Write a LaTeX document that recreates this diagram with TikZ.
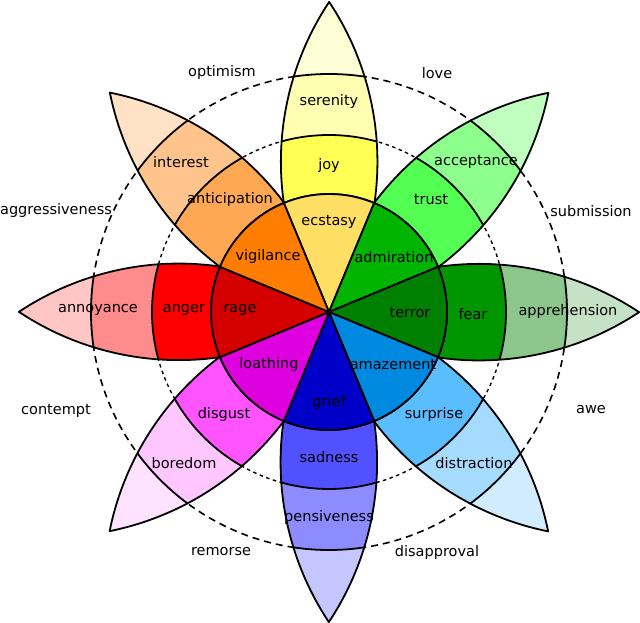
\documentclass[tikz,border=0pt]{standalone}
\usepackage{fontspec}
\setmainfont{DejaVu Sans}
% joy
\definecolor{joyA}{RGB}{255,222,100}
\definecolor{joyB}{RGB}{255,255,84}
\definecolor{joyC}{RGB}{255,255,177}
\definecolor{joyD}{RGB}{255,255,215}
% trust
\definecolor{truA}{RGB}{0,180,0}
\definecolor{truB}{RGB}{84,255,84}
\definecolor{truC}{RGB}{140,255,140}
\definecolor{truD}{RGB}{192,255,192}
% fear
\definecolor{feaA}{RGB}{0,128,0}
\definecolor{feaB}{RGB}{0,150,0}
\definecolor{feaC}{RGB}{140,198,140}
\definecolor{feaD}{RGB}{198,226,198}
% surprise
\definecolor{surA}{RGB}{0,137,224}
\definecolor{surB}{RGB}{89,189,255}
\definecolor{surC}{RGB}{165,219,255}
\definecolor{surD}{RGB}{210,236,255}
% sadness
\definecolor{sadA}{RGB}{0,0,200}
\definecolor{sadB}{RGB}{81,81,255}
\definecolor{sadC}{RGB}{140,140,255}
\definecolor{sadD}{RGB}{198,198,255}
% disgust
\definecolor{disA}{RGB}{222,0,222}
\definecolor{disB}{RGB}{255,84,255}
\definecolor{disC}{RGB}{255,198,255}
\definecolor{disD}{RGB}{255,226,255}
% anger
\definecolor{angA}{RGB}{212,0,0}
\definecolor{angB}{RGB}{255,0,0}
\definecolor{angC}{RGB}{255,140,140}
\definecolor{angD}{RGB}{255,198,198}
% anticipation
\definecolor{antA}{RGB}{255,125,0}
\definecolor{antB}{RGB}{255,168,84}
\definecolor{antC}{RGB}{255,196,140}
\definecolor{antD}{RGB}{255,226,198}
\newcommand{\PetalPath}{(22.5:118) arc[start angle=98.2, end angle=56.4, radius=288.9] arc[start angle=-56.4, end angle=-98.2, radius=288.9] arc[start angle=-22.5, end angle=22.5, radius=118] -- cycle}
\newcommand{\Petal}[5]{%
  \begin{scope}[rotate=#1]
    \begin{scope}
      \clip \PetalPath;
      \fill[fill=#5] (0,0) circle[radius=330];
      \fill[fill=#4] (0,0) circle[radius=238];
      \fill[fill=#3] (0,0) circle[radius=177];
      \draw[edge] (0,0) circle[radius=177] (0,0) circle[radius=238];
    \end{scope}
    \draw[edge] \PetalPath;
    \fill[fill=#2] (0,0) -- (-22.5:118) arc[start angle=-22.5, end angle=22.5, radius=118] -- cycle;
    \draw[edge] (0,0) -- (-22.5:118) arc[start angle=-22.5, end angle=22.5, radius=118] -- cycle;
  \end{scope}}
\begin{document}
\begin{tikzpicture}[x=1pt,y=1pt,
  edge/.style={draw=black, line width=1.8pt, line join=round},
  dashin/.style={draw=black, line width=1.4pt, dash pattern=on 3.5pt off 3.5pt},
  dashout/.style={draw=black, line width=1.6pt, dash pattern=on 7pt off 5pt},
  lab/.style={font=\fontsize{14.5}{16}\selectfont, inner sep=0pt, text=black}]
\useasboundingbox (-329,-311) rectangle (311,312);
\fill[white] (-329,-311) rectangle (311,312);
% dashed circles
\draw[dashin] (0,0) circle[radius=177];
\draw[dashout] (0,0) circle[radius=238];
% petals
\Petal{90}{joyA}{joyB}{joyC}{joyD}
\Petal{45}{truA}{truB}{truC}{truD}
\Petal{0}{feaA}{feaB}{feaC}{feaD}
\Petal{-45}{surA}{surB}{surC}{surD}
\Petal{-90}{sadA}{sadB}{sadC}{sadD}
\Petal{-135}{disA}{disB}{disC}{disD}
\Petal{180}{angA}{angB}{angC}{angD}
\Petal{135}{antA}{antB}{antC}{antD}
% petal labels
\node[lab] (serenity) at (0,210) {serenity};
\node[lab] (joy) at (0,146) {joy};
\node[lab] (ecstasy) at (0,90) {ecstasy};
\node[lab] (acceptance) at (147,150) {acceptance};
\node[lab] (trust) at (102,112) {trust};
\node[lab] (admiration) at (65,55) {admiration};
\node[lab] (apprehension) at (239,0) {apprehension};
\node[lab] (fear) at (144,-2) {fear};
\node[lab] (terror) at (81,-1) {terror};
\node[lab] (amazement) at (64,-53) {amazement};
\node[lab] (surprise) at (105,-103) {surprise};
\node[lab] (distraction) at (145,-151) {distraction};
\node[lab] (grief) at (0,-91) {grief};
\node[lab] (sadness) at (0,-145) {sadness};
\node[lab] (pensiveness) at (0,-206) {pensiveness};
\node[lab] (loathing) at (-60,-53) {loathing};
\node[lab] (disgust) at (-105,-103) {disgust};
\node[lab] (boredom) at (-145,-151) {boredom};
\node[lab] (rage) at (-89,2) {rage};
\node[lab] (anger) at (-145,2) {anger};
\node[lab] (annoyance) at (-231,2) {annoyance};
\node[lab] (vigilance) at (-61,55) {vigilance};
\node[lab] (anticipation) at (-99,112) {anticipation};
\node[lab] (interest) at (-148,150) {interest};
% dyads
\node[lab] (optimism) at (-107,239) {optimism};
\node[lab] (love) at (108,239) {love};
\node[lab] (aggressiveness) at (-273,101) {aggressiveness};
\node[lab] (submission) at (262,101) {submission};
\node[lab] (contempt) at (-273,-99) {contempt};
\node[lab] (awe) at (262,-98) {awe};
\node[lab] (remorse) at (-108,-240) {remorse};
\node[lab] (disapproval) at (108,-240) {disapproval};
\end{tikzpicture}
\end{document}
